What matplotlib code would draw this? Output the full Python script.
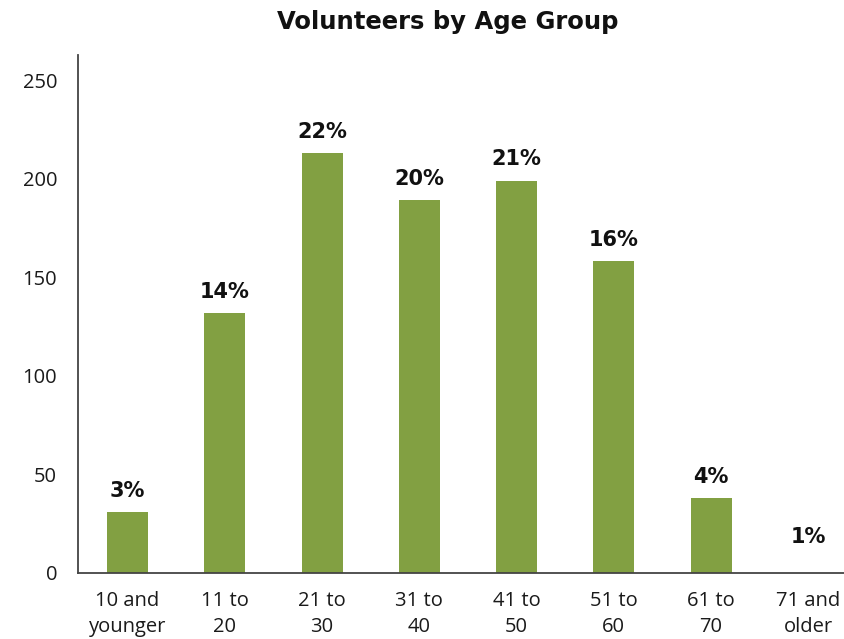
import matplotlib.pyplot as plt

# volunteer counts per age bracket
age_groups = ['10 and\nyounger', '11 to\n20', '21 to\n30', '31 to\n40',
              '41 to\n50', '51 to\n60', '61 to\n70', '71 and\nolder']
volunteers = [31, 132, 213, 189, 199, 158, 38, 0]
share_labels = ['3%', '14%', '22%', '20%', '21%', '16%', '4%', '1%']
y_ticks = [0, 50, 100, 150, 200, 250]

plt.rcParams['font.family'] = ['Open Sans', 'DejaVu Sans']
bold_font = ['DejaVu Sans']

fig = plt.figure(figsize=(8.45, 6.39), dpi=100)
ax = fig.add_axes([78 / 845, 66 / 639, 779 / 845, 518 / 639])

x = range(len(age_groups))
bars = ax.bar(x, volunteers, width=0.42, color='#82a042', zorder=2)

for bar, lab in zip(bars, share_labels):
    h = bar.get_height()
    # empty bars get their label lifted a bit more
    off = 8 if h > 0 else 19
    ax.annotate(lab, (bar.get_x() + bar.get_width() / 2, h),
                xytext=(0, off), textcoords='offset points', ha='center', va='bottom',
                fontsize=15, fontweight='bold', family=bold_font, color='#111111')

ax.set_xlim(-0.51, 7.5)
ax.set_ylim(0, 262.7)
ax.set_yticks(y_ticks)
ax.set_xticks(list(x))
ax.set_xticklabels(age_groups, linespacing=1.4)
ax.tick_params(axis='both', length=0, labelsize=14.5, colors='#1a1a1a')
ax.tick_params(axis='x', pad=13)
ax.tick_params(axis='y', pad=15)

for side in ['top', 'right']:
    ax.spines[side].set_visible(False)
for side in ['left', 'bottom']:
    ax.spines[side].set_color('#444444')
    ax.spines[side].set_linewidth(1.3)

fig.text(448 / 845, 1 - 22 / 639, 'Volunteers by Age Group', ha='center', va='center',
         fontsize=17.5, fontweight='bold', family=bold_font, color='#111111')

fig.savefig('out.png', dpi=100)
